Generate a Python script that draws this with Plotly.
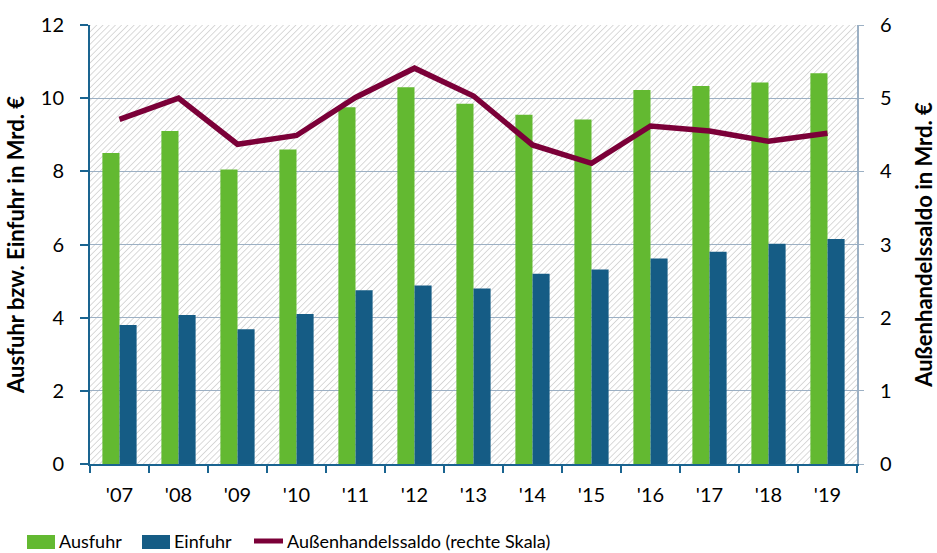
import plotly.graph_objects as go
import base64

years = ["'07", "'08", "'09", "'10", "'11", "'12", "'13", "'14", "'15", "'16", "'17", "'18", "'19"]
ausfuhr = [8.5, 9.1, 8.05, 8.6, 9.75, 10.3, 9.85, 9.55, 9.42, 10.22, 10.33, 10.43, 10.68]
einfuhr = [3.8, 4.07, 3.68, 4.1, 4.75, 4.88, 4.8, 5.2, 5.32, 5.62, 5.8, 6.02, 6.15]
saldo = [4.71, 5.0, 4.37, 4.49, 5.01, 5.41, 5.03, 4.36, 4.11, 4.62, 4.55, 4.41, 4.52]

GREEN = "#63b931"
BLUE = "#155c85"
MAROON = "#7b0038"
GRID = "#9cb0c4"
AXBLUE = "#1a6490"
FONT = "Lato"
LEGFONT = "Lato"

W, H = 937, 553
ML, MR, MT, MB = 90, 80, 25, 89
PW, PH = W - ML - MR, H - MT - MB

# hatched plot-area background as an SVG image
svg = (f"<svg xmlns='http://www.w3.org/2000/svg' width='{PW}' height='{PH}'>"
       "<defs><pattern id='h' width='4.4' height='4.4' patternUnits='userSpaceOnUse' "
       "patternTransform='rotate(45)'>"
       "<line x1='0' y1='0' x2='0' y2='4.4' stroke='#c6c6c6' stroke-width='1.3'/>"
       "</pattern></defs><rect width='100%' height='100%' fill='url(#h)'/></svg>")
svg_uri = "data:image/svg+xml;base64," + base64.b64encode(svg.encode()).decode()

fig = go.Figure()
fig.add_trace(go.Bar(name="Ausfuhr", x=years, y=ausfuhr, marker_color=GREEN, marker_line_width=0))
fig.add_trace(go.Bar(name="Einfuhr", x=years, y=einfuhr, marker_color=BLUE, marker_line_width=0))
fig.add_trace(go.Scatter(name="Außenhandelssaldo (rechte Skala)", x=years, y=saldo,
                         mode="lines", line=dict(color=MAROON, width=5.5), yaxis="y2"))

fig.add_layout_image(dict(source=svg_uri, xref="paper", yref="paper", x=0, y=1,
                          sizex=1, sizey=1, xanchor="left", yanchor="top",
                          sizing="stretch", layer="below"))

def px2x(px):
    return (px - ML) / PW

def py2y(py):
    return (H - MB - py) / PH

shapes = [
    dict(type="rect", xref="paper", yref="paper", x0=px2x(27), x1=px2x(55),
         y0=py2y(549), y1=py2y(535), fillcolor=GREEN, line=dict(width=0)),
    dict(type="rect", xref="paper", yref="paper", x0=px2x(142), x1=px2x(170),
         y0=py2y(549), y1=py2y(535), fillcolor=BLUE, line=dict(width=0)),
    dict(type="line", xref="paper", yref="paper", x0=px2x(254), x1=px2x(283),
         y0=py2y(541), y1=py2y(541), line=dict(color=MAROON, width=5)),
]
legend_texts = [(57, "Ausfuhr"), (172, "Einfuhr"), (285, "Außenhandelssaldo (rechte Skala)")]
annotations = [dict(text=t, xref="paper", yref="paper", x=px2x(px), y=py2y(541),
                    xanchor="left", yanchor="middle", showarrow=False,
                    font=dict(family=LEGFONT, size=18, color="black"))
               for px, t in legend_texts]

fig.update_layout(
    width=W, height=H,
    margin=dict(l=ML, r=MR, t=MT, b=MB, autoexpand=False),
    paper_bgcolor="white", plot_bgcolor="rgba(0,0,0,0)",
    font=dict(family=FONT, size=20, color="black"),
    barmode="group", bargap=0.42, bargroupgap=0,
    showlegend=False,
    shapes=shapes, annotations=annotations,
    xaxis=dict(type="category", automargin=False,
               showline=True, linecolor=AXBLUE, linewidth=2,
               ticks="outside", tickson="boundaries", ticklen=7, tickcolor=AXBLUE, tickwidth=2,
               ticklabelstandoff=12,
               showgrid=False, tickfont=dict(size=20)),
    yaxis=dict(range=[0, 12], dtick=2, automargin=False,
               showline=True, linecolor=AXBLUE, linewidth=2,
               ticks="outside", ticklen=8, tickcolor=AXBLUE, tickwidth=2,
               ticklabelstandoff=12,
               showgrid=True, gridcolor=GRID, gridwidth=1, zeroline=False,
               title=dict(text="<b>Ausfuhr bzw. Einfuhr in Mrd. €</b>", font=dict(size=22), standoff=10),
               tickfont=dict(size=20)),
    yaxis2=dict(overlaying="y", side="right", range=[0, 6], dtick=1, automargin=False,
                showline=True, linecolor=GRID, linewidth=2,
                ticks="outside", ticklen=5, tickcolor=GRID, tickwidth=1,
                ticklabelstandoff=12,
                showgrid=False, zeroline=False,
                title=dict(text="<b>Außenhandelssaldo in Mrd. €</b>", font=dict(size=22), standoff=26),
                tickfont=dict(size=20)),
)

fig.write_html("out.html", config={"displayModeBar": False},
               post_script="document.body.style.margin='0';document.body.style.padding='0';")
